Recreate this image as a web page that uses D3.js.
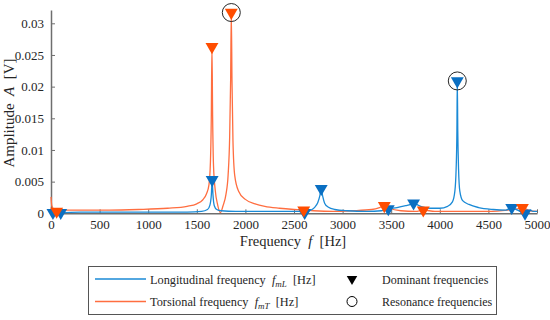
<!DOCTYPE html>
<html>
<head>
<meta charset="utf-8">
<script src="https://cdn.jsdelivr.net/npm/d3@7"></script>
<style>
  body { margin: 0; background: #fff; }
</style>
</head>
<body>
<div id="chart"></div>
<script>
// Longitudinal response (blue): [frequency Hz, amplitude V]
const longFreq = [0, 20, 60, 100, 300, 600, 1000, 1400, 1550, 1610, 1635, 1650, 1658, 1666, 1680, 1705, 1750, 1900, 2100, 2400, 2550, 2610, 2660, 2710, 2745, 2765, 2780, 2795, 2815, 2850, 2920, 3050, 3250, 3400, 3470, 3560, 3650, 3700, 3730, 3760, 3820, 3900, 4000, 4080, 4130, 4155, 4168, 4176, 4180, 4185, 4193, 4206, 4235, 4300, 4400, 4550, 4680, 4740, 4800, 4877, 4930, 4960, 5000];
const longAmp  = [0.0006, 0.0001, 0.0003, 0.0001, 0.0002, 0.0002, 0.0002, 0.0002, 0.0003, 0.0006, 0.0013, 0.0030, 0.0053, 0.0030, 0.0012, 0.0006, 0.0004, 0.0003, 0.0003, 0.0003, 0.0003, 0.0001, 0.0004, 0.0009, 0.0017, 0.0027, 0.0039, 0.0027, 0.0016, 0.0010, 0.0006, 0.0004, 0.0003, 0.0004, 0.0007, 0.0009, 0.0012, 0.0014, 0.0016, 0.0014, 0.0010, 0.0008, 0.0008, 0.0011, 0.0018, 0.0035, 0.0070, 0.0130, 0.0209, 0.0130, 0.0070, 0.0035, 0.0020, 0.0014, 0.0009, 0.0006, 0.0005, 0.0009, 0.0005, 0.0000, 0.0005, 0.0003, 0.0003];

// Torsional response (orange)
const torsFreq = [0, 8, 25, 58, 100, 300, 600, 900, 1200, 1400, 1500, 1560, 1600, 1625, 1640, 1649, 1656, 1663, 1672, 1690, 1715, 1742, 1770, 1800, 1822, 1838, 1848, 1855, 1862, 1872, 1890, 1930, 2000, 2100, 2200, 2350, 2500, 2600, 2700, 2900, 3100, 3300, 3380, 3429, 3480, 3600, 3750, 3830, 3950, 4200, 4500, 4700, 4800, 4850, 4930, 5000];
const torsAmp  = [0.0026, 0.0012, 0.0007, 0.0003, 0.0005, 0.0005, 0.0005, 0.0006, 0.0008, 0.0011, 0.0015, 0.0021, 0.0031, 0.0045, 0.0080, 0.0150, 0.0263, 0.0150, 0.0075, 0.0036, 0.0013, 0.0001, 0.0012, 0.0030, 0.0060, 0.0120, 0.0210, 0.0317, 0.0210, 0.0115, 0.0060, 0.0035, 0.0022, 0.0015, 0.0011, 0.0008, 0.0006, 0.0005, 0.0004, 0.0003, 0.0004, 0.0006, 0.0009, 0.0012, 0.0008, 0.0004, 0.0003, 0.0005, 0.0003, 0.0003, 0.0003, 0.0005, 0.0007, 0.0009, 0.0004, 0.0003];

// Dominant frequencies (triangles)
const longDomFreq = [20, 100, 1658, 2610, 2780, 3470, 3730, 4180, 4740, 4877];
const longDomAmp  = [0.0001, 0.0001, 0.0053, 0.0001, 0.0039, 0.0007, 0.0016, 0.0209, 0.0009, 0.0000];
const torsDomFreq = [58, 1656, 1855, 2600, 3429, 3830, 4850];
const torsDomAmp  = [0.0003, 0.0263, 0.0317, 0.0005, 0.0012, 0.0005, 0.0009];

// Resonance frequencies (circles)
const resFreq = [1855, 4180];
const resAmp  = [0.0317, 0.0209];

const xTicks = [0, 500, 1000, 1500, 2000, 2500, 3000, 3500, 4000, 4500, 5000];
const yTicks = [0, 0.005, 0.01, 0.015, 0.02, 0.025, 0.03];
const yTickLabels = ["0", "0.005", "0.01", "0.015", "0.02", "0.025", "0.03"];

const serif = "'Liberation Serif', 'Times New Roman', serif";
const textColor = "#262626";
const blueLine = "#1a8ad6", orangeLine = "#ff6e40";
const blueMark = "#0a6fc2", orangeMark = "#ff4d00";

const svg = d3.select("#chart").append("svg")
    .attr("width", 550)
    .attr("height", 320)
    .style("font-family", serif);

const x = d3.scaleLinear().domain([0, 5000]).range([51, 537]);
const y = d3.scaleLinear().domain([0, 0.0321]).range([213.3, 10]);

// Axes (ticks inward)
const xAxis = svg.append("g")
    .attr("transform", `translate(0, ${y(0)})`)
    .call(d3.axisBottom(x).tickValues(xTicks).tickFormat(d3.format("d")).tickSize(-4).tickPadding(6).tickSizeOuter(0));
const yAxis = svg.append("g")
    .attr("transform", `translate(${x(0)}, 0)`)
    .call(d3.axisLeft(y).tickValues(yTicks).tickFormat((d, i) => yTickLabels[i]).tickSize(-4).tickPadding(7).tickSizeOuter(0));

[xAxis, yAxis].forEach(g => {
    g.style("font-family", serif).attr("font-size", 13);
    g.select(".domain").attr("stroke", "#6e6e6e").attr("stroke-width", 1.5);
    g.selectAll(".tick line").attr("stroke", "#6e6e6e");
    g.selectAll(".tick text").attr("fill", textColor);
});

// Curves
const line = d3.line()
    .x(d => x(d[0]))
    .y(d => y(d[1]))
    .curve(d3.curveMonotoneX);

svg.append("path")
    .datum(d3.zip(torsFreq, torsAmp))
    .attr("fill", "none")
    .attr("stroke", orangeLine)
    .attr("stroke-width", 1.3)
    .attr("d", line);

svg.append("path")
    .datum(d3.zip(longFreq, longAmp))
    .attr("fill", "none")
    .attr("stroke", blueLine)
    .attr("stroke-width", 1.3)
    .attr("d", line);

// Markers
const tri = d3.symbol().type(d3.symbolTriangle).size(72);

svg.selectAll(".ldom")
    .data(d3.zip(longDomFreq, longDomAmp))
    .join("path")
    .attr("class", "ldom")
    .attr("d", tri)
    .attr("fill", blueMark)
    .attr("transform", d => `translate(${x(d[0])}, ${y(d[1])}) rotate(180)`);

svg.selectAll(".tdom")
    .data(d3.zip(torsDomFreq, torsDomAmp))
    .join("path")
    .attr("class", "tdom")
    .attr("d", tri)
    .attr("fill", orangeMark)
    .attr("transform", d => `translate(${x(d[0])}, ${y(d[1])}) rotate(180)`);

svg.selectAll(".res")
    .data(d3.zip(resFreq, resAmp))
    .join("circle")
    .attr("class", "res")
    .attr("cx", d => x(d[0]))
    .attr("cy", d => y(d[1]))
    .attr("r", 9)
    .attr("fill", "none")
    .attr("stroke", textColor)
    .attr("stroke-width", 1);

// Axis labels
const xLabel = svg.append("text")
    .attr("x", 293)
    .attr("y", 246)
    .attr("text-anchor", "middle")
    .attr("fill", textColor)
    .attr("font-size", 14.5);
xLabel.append("tspan").text("Frequency\u00a0 ");
xLabel.append("tspan").attr("font-style", "italic").text("f");
xLabel.append("tspan").text("\u00a0 [Hz]");

const yLabel = svg.append("text")
    .attr("transform", "translate(14, 113) rotate(-90)")
    .attr("text-anchor", "middle")
    .attr("fill", textColor)
    .attr("font-size", 15);
yLabel.append("tspan").text("Amplitude\u00a0 ");
yLabel.append("tspan").attr("font-style", "italic").text("A");
yLabel.append("tspan").text("\u00a0 [V]");

// Legend
const legend = svg.append("g");
legend.append("rect")
    .attr("x", 88.5).attr("y", 266.5)
    .attr("width", 408).attr("height", 48)
    .attr("fill", "#fff")
    .attr("stroke", "#555")
    .attr("stroke-width", 1);

const legendRows = [
    { color: blueLine, name: "Longitudinal frequency", sub: "mL", y: 279 },
    { color: orangeLine, name: "Torsional frequency", sub: "mT", y: 301.5 }
];

legendRows.forEach(r => {
    legend.append("line")
        .attr("x1", 95).attr("x2", 146)
        .attr("y1", r.y).attr("y2", r.y)
        .attr("stroke", r.color)
        .attr("stroke-width", 1.3);
    const t = legend.append("text")
        .attr("x", 150)
        .attr("y", r.y + 4.5)
        .attr("fill", textColor)
        .attr("font-size", 12.3);
    t.append("tspan").text(r.name + "\u00a0 ");
    t.append("tspan").attr("font-style", "italic").text("f");
    t.append("tspan").attr("font-style", "italic").attr("font-size", 9).attr("dy", 3).text(r.sub);
    t.append("tspan").attr("dy", -3).text("\u00a0 [Hz]");
});

legend.append("path")
    .attr("d", d3.symbol().type(d3.symbolTriangle).size(48))
    .attr("fill", "#000")
    .attr("transform", "translate(352, 279) rotate(180)");
legend.append("circle")
    .attr("cx", 352).attr("cy", 301.5).attr("r", 5)
    .attr("fill", "none")
    .attr("stroke", "#000")
    .attr("stroke-width", 1);

legend.append("text").attr("x", 382).attr("y", 283.5).attr("fill", textColor).attr("font-size", 12).text("Dominant frequencies");
legend.append("text").attr("x", 382).attr("y", 306).attr("fill", textColor).attr("font-size", 12).text("Resonance frequencies");
</script>
</body>
</html>
